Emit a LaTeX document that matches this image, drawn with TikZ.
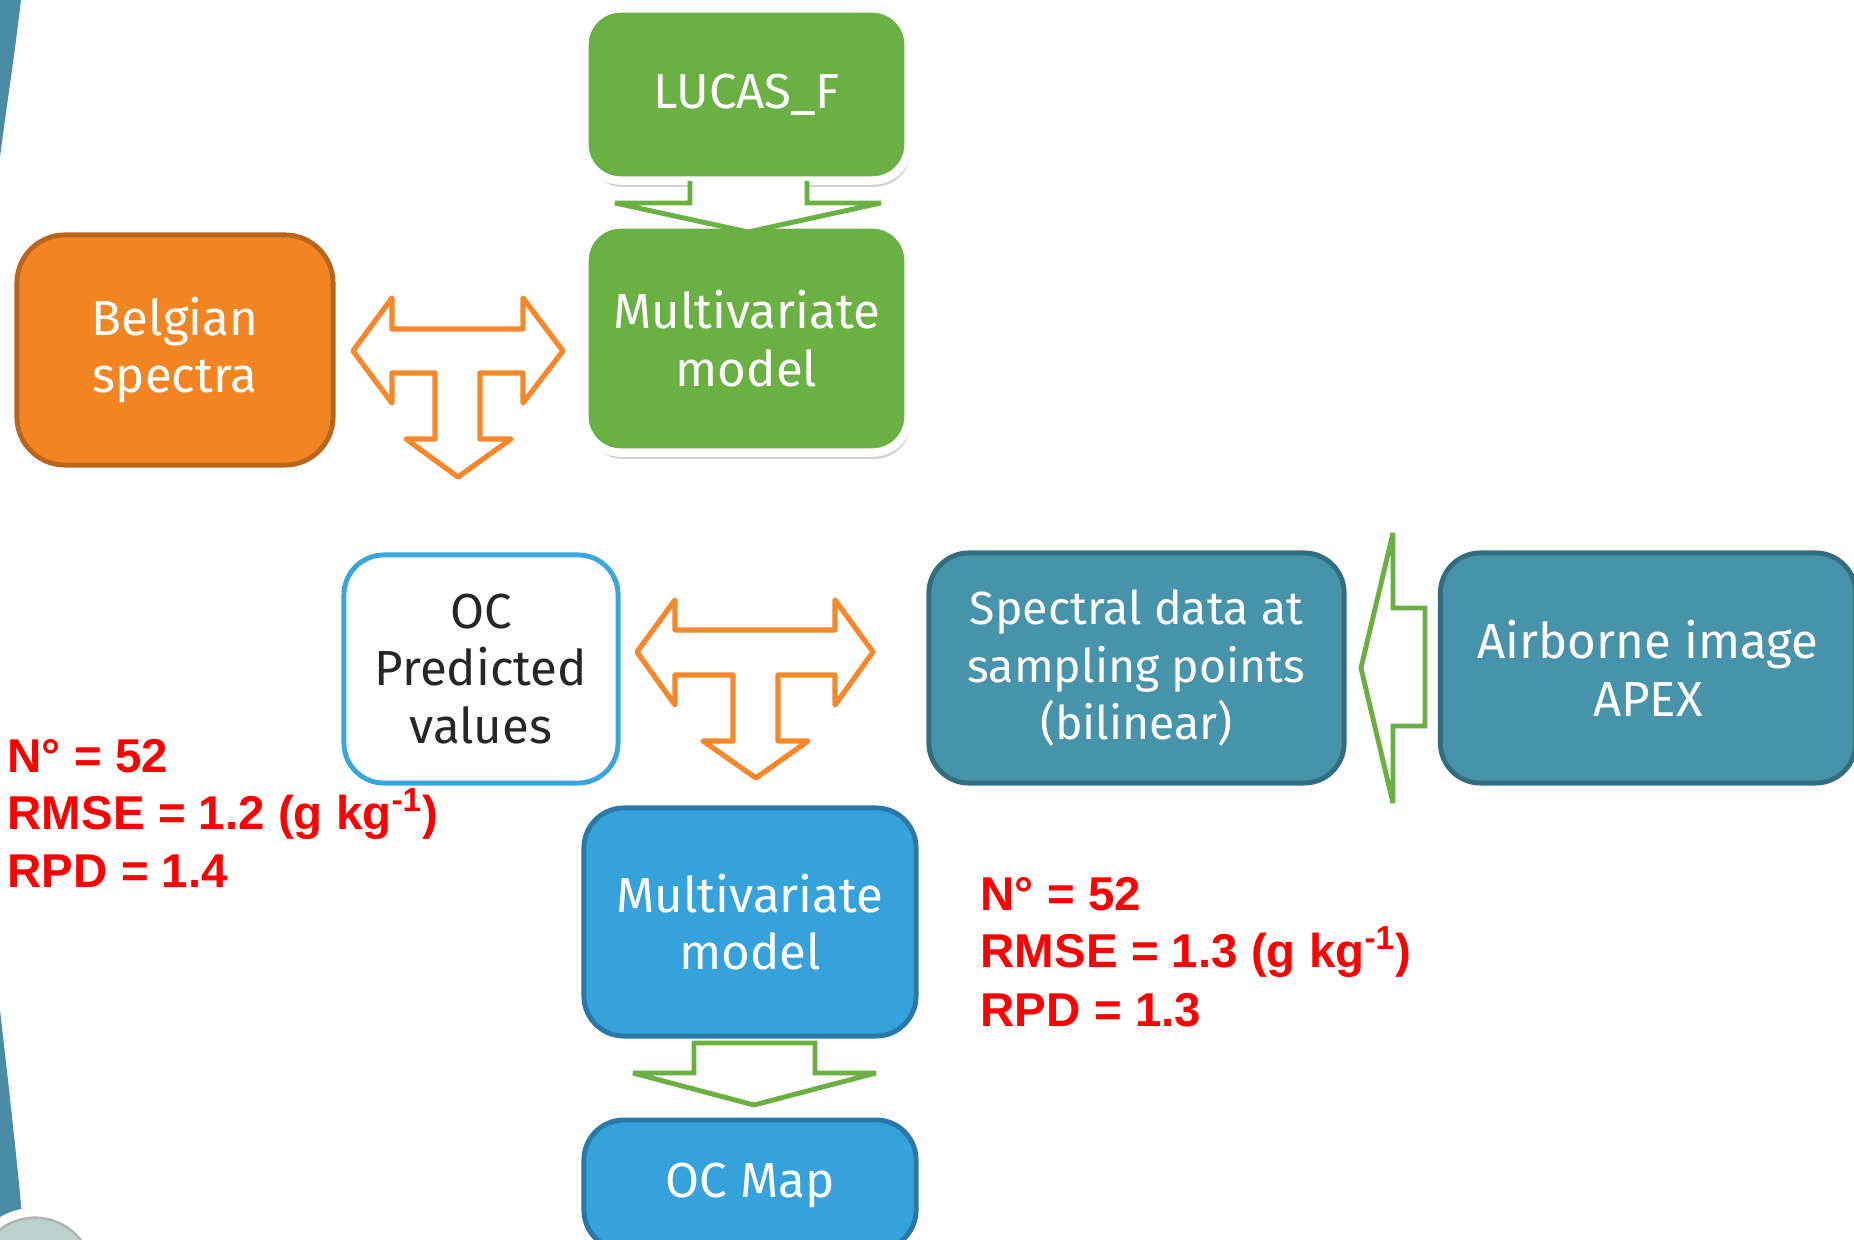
\documentclass[tikz,border=0pt]{standalone}
\usepackage{fontspec}
\setmainfont{Fira Sans}
\newfontfamily\statfont{Liberation Sans}
\usetikzlibrary{shadows}
\definecolor{leafgreen}{HTML}{6AB042}
\definecolor{orangefill}{HTML}{F28522}
\definecolor{orangeline}{HTML}{BA651E}
\definecolor{arroworange}{HTML}{F5882A}
\definecolor{tealfill}{HTML}{4794AA}
\definecolor{tealline}{HTML}{336E80}
\definecolor{bluefill}{HTML}{36A2DB}
\definecolor{blueline}{HTML}{2A78A8}
\definecolor{ocline}{HTML}{3BA6DE}
\definecolor{bandteal}{HTML}{4A8BA5}
\definecolor{statred}{HTML}{FF0000}
\begin{document}
\begin{tikzpicture}[x=0.01cm, y=-0.01cm,
    box/.style={rounded corners=0.4cm, line width=1.4pt, align=center, text=white, inner sep=0pt,
        font=\fontsize{14}{16.4}\selectfont},
    greenbox/.style={box, fill=leafgreen, draw=white, line width=2.4pt, rounded corners=0.36cm,
        minimum width=3.24cm, drop shadow={opacity=0.35, shadow xshift=0.6pt, shadow yshift=-1.8pt}},
    tealbox/.style={box, fill=tealfill, draw=tealline, minimum width=4.15cm, minimum height=2.3cm},
    bluebox/.style={box, fill=bluefill, draw=blueline, minimum width=3.32cm},
    orangearrow/.style={draw=arroworange, line width=1.5pt, line join=round, fill=white},
    greenarrow/.style={draw=leafgreen, line width=1.4pt, miter limit=2.5, fill=white},
    stats/.style={anchor=base west, inner sep=0pt, text=statred, font=\statfont\bfseries\fontsize{13.5}{16}\selectfont}]
    \useasboundingbox (0,0) rectangle (1854,1240);
    \clip (0,0) rectangle (1854,1240);

    % Slide decoration on the left edge
    \fill[bandteal] (0,0) -- (21,0) .. controls (14,60) and (6,110) .. (0,157) -- cycle;
    \fill[bandteal] (0,1010) .. controls (8,1080) and (16,1150) .. (22,1215) -- (22,1240) -- (0,1240) -- cycle;
    \draw[line width=2.5pt, white, fill=gray!60] (35,1276) circle (64);
    \fill[green!25!cyan!20!gray!45] (35,1276) circle (57);

    % Upper branch
    \node[greenbox, minimum height=1.72cm] (lucas) at (746.5,94.5) {LUCAS\_F};
    \node[greenbox, minimum height=2.28cm] (mvgreen) at (746.5,338.5) {Multivariate\\model};
    \node[box, fill=orangefill, draw=orangeline, rounded corners=0.48cm,
        minimum width=3.16cm, minimum height=2.3cm] (belgian) at (175,350) {Belgian\\spectra};

    % Lower branch
    \node[box, fill=white, draw=ocline, text=black!85, minimum width=2.74cm, minimum height=2.28cm] (oc) at (481,669) {OC\\Predicted\\values};
    \node[tealbox, font=\fontsize{13.2}{16.4}\selectfont] (spectral) at (1136.5,668) {Spectral data at\\sampling points\\(bilinear)};
    \node[tealbox] (airborne) at (1648,668) {Airborne image\\APEX};
    \node[bluebox, minimum height=2.28cm] (mvblue) at (750,922) {Multivariate\\model};
    \node[bluebox, minimum height=1.3cm] (ocmap) at (750,1185) {OC Map};

    % Block arrows
    \draw[greenarrow] (690,181) -- (690,203) -- (615,203) -- (748,232) -- (881,203) -- (807,203) -- (807,181);
    \draw[orangearrow] (353,351) -- (392,298) -- (392,329) -- (523,329) -- (523,298) -- (563,351)
        -- (523,403) -- (523,373) -- (480,373) -- (480,439) -- (511,439) -- (458,477)
        -- (406,439) -- (435,439) -- (435,373) -- (392,373) -- (392,403) -- cycle;
    \draw[orangearrow] (637,652) -- (675,600) -- (675,630) -- (835,630) -- (835,600) -- (873,652)
        -- (835,705) -- (835,675) -- (778,675) -- (778,741) -- (808,741) -- (756,778)
        -- (703,741) -- (733,741) -- (733,675) -- (675,675) -- (675,705) -- cycle;
    \draw[greenarrow] (1361,668) -- (1393,533) -- (1393,608) -- (1425,608) -- (1425,726) -- (1393,726) -- (1393,803) -- cycle;
    \draw[greenarrow] (694,1043) -- (815,1043) -- (815,1073) -- (876,1073) -- (754,1105) -- (633,1073) -- (694,1073) -- cycle;

    % Validation statistics
    \node[stats] (nleft) at (7,773) {N° = 52};
    \node[stats] (rmseleft) at (7,830) {RMSE = 1.2 (g kg\textsuperscript{-1})};
    \node[stats] (rpdleft) at (7,887) {RPD = 1.4};
    \node[stats] (nright) at (980,910) {N° = 52};
    \node[stats] (rmseright) at (980,968) {RMSE = 1.3 (g kg\textsuperscript{-1})};
    \node[stats] (rpdright) at (980,1027) {RPD = 1.3};
\end{tikzpicture}
\end{document}
